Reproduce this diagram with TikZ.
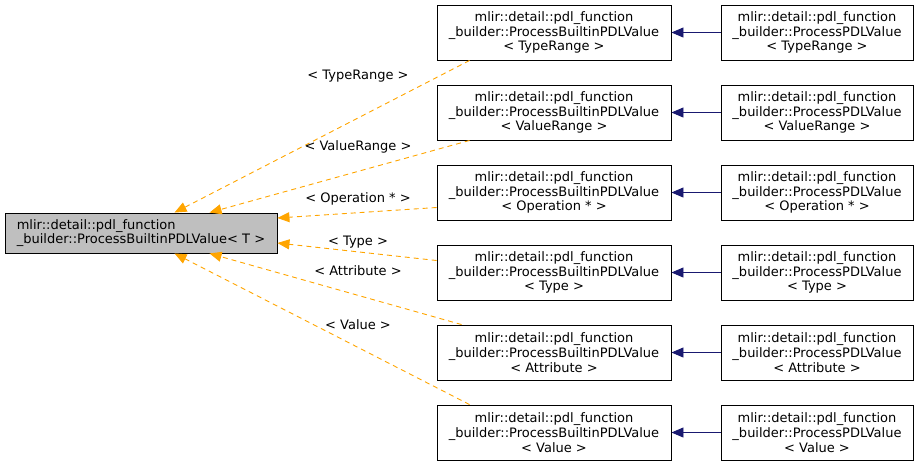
\documentclass[tikz,border=0pt]{standalone}
\usepackage{fontspec}
\setmainfont{DejaVu Sans}
\usetikzlibrary{arrows.meta,calc}
\definecolor{edgeorange}{HTML}{FFA500}
\definecolor{edgenavy}{HTML}{191970}
\definecolor{basefill}{HTML}{BFBFBF}
\begin{document}
\begin{tikzpicture}[x=1pt,y=-1pt,
  every node/.style={font=\fontsize{13}{14.8}\selectfont, inner sep=0pt},
  cls/.style={draw=black, line width=0.9pt, rectangle, minimum width=234pt, minimum height=55pt, align=center, fill=white},
  rcls/.style={draw=black, line width=0.9pt, rectangle, minimum width=192pt, minimum height=55pt, align=center, fill=white},
  basecls/.style={draw=black, line width=0.9pt, rectangle, minimum width=272pt, minimum height=40pt, align=left, fill=basefill},
  inh/.style={draw=edgeorange, line width=0.9pt, dash pattern=on 5pt off 4pt, -{Triangle[length=12pt,width=10pt,fill=edgeorange]}},
  der/.style={draw=edgenavy, line width=0.9pt, -{Triangle[length=12pt,width=10pt,fill=edgenavy]}},
  lbl/.style={font=\fontsize{13}{14}\selectfont}
]
\useasboundingbox (0,0) rectangle (919,467);
\node[basecls] (base) at (141,233) {mlir::detail::pdl\_function\\\_builder::ProcessBuiltinPDLValue< T >};

\node[cls] (m1) at (554,32.5) {mlir::detail::pdl\_function\\\_builder::ProcessBuiltinPDLValue\\< TypeRange >};
\node[cls] (m2) at (554,112.5) {mlir::detail::pdl\_function\\\_builder::ProcessBuiltinPDLValue\\< ValueRange >};
\node[cls] (m3) at (554,192.5) {mlir::detail::pdl\_function\\\_builder::ProcessBuiltinPDLValue\\< Operation * >};
\node[cls] (m4) at (554,272.5) {mlir::detail::pdl\_function\\\_builder::ProcessBuiltinPDLValue\\< Type >};
\node[cls] (m5) at (554,352.5) {mlir::detail::pdl\_function\\\_builder::ProcessBuiltinPDLValue\\< Attribute >};
\node[cls] (m6) at (554,432.5) {mlir::detail::pdl\_function\\\_builder::ProcessBuiltinPDLValue\\< Value >};

\node[rcls] (r1) at (817,32.5) {mlir::detail::pdl\_function\\\_builder::ProcessPDLValue\\< TypeRange >};
\node[rcls] (r2) at (817,112.5) {mlir::detail::pdl\_function\\\_builder::ProcessPDLValue\\< ValueRange >};
\node[rcls] (r3) at (817,192.5) {mlir::detail::pdl\_function\\\_builder::ProcessPDLValue\\< Operation * >};
\node[rcls] (r4) at (817,272.5) {mlir::detail::pdl\_function\\\_builder::ProcessPDLValue\\< Type >};
\node[rcls] (r5) at (817,352.5) {mlir::detail::pdl\_function\\\_builder::ProcessPDLValue\\< Attribute >};
\node[rcls] (r6) at (817,432.5) {mlir::detail::pdl\_function\\\_builder::ProcessPDLValue\\< Value >};

\foreach \i in {1,...,6} { \draw[der] (r\i.west) -- (m\i.east); }

\draw[inh] ($(m1.south west)+(33,0)$) -- ($(base.north west)+(170,0)$);
\draw[inh] ($(m2.south west)+(33,0)$) -- ($(base.north west)+(205,0)$);
\draw[inh] ($(m3.west)+(0,15)$) -- ($(base.east)+(0,-15)$);
\draw[inh] ($(m4.west)+(0,-12)$) -- ($(base.east)+(0,10)$);
\draw[inh] ($(m5.north west)+(25,0)$) -- ($(base.south west)+(205,0)$);
\draw[inh] ($(m6.north west)+(33,0)$) -- ($(base.south west)+(170,0)$);

\node[lbl] (l1) at (358,76) {< TypeRange >};
\node[lbl] (l2) at (358,147) {< ValueRange >};
\node[lbl] (l3) at (358,199) {< Operation * >};
\node[lbl] (l4) at (358,242) {< Type >};
\node[lbl] (l5) at (358,271) {< Attribute >};
\node[lbl] (l6) at (358,325) {< Value >};
\end{tikzpicture}
\end{document}
